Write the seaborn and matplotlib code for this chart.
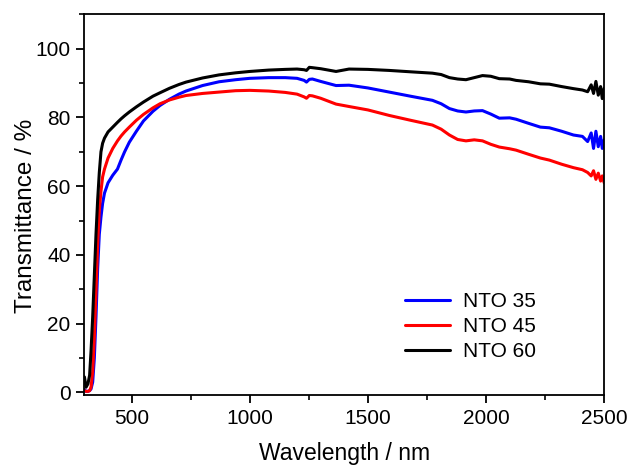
import numpy as np
import pandas as pd
import matplotlib
matplotlib.use("Agg")
import matplotlib.pyplot as plt
from matplotlib.ticker import MultipleLocator
import seaborn as sns

wavelength = [300, 307, 315, 322, 328, 335, 342, 349, 356, 363, 370, 377, 385, 400, 420,
              440, 455, 470, 490, 520, 550, 590, 620, 660, 700, 730, 800, 870, 940, 1000,
              1080, 1150, 1200, 1230, 1240, 1252, 1265, 1300, 1365, 1420, 1500, 1590, 1680,
              1773, 1810, 1845, 1880, 1915, 1950, 1985, 2020, 2056, 2100, 2127, 2180, 2230,
              2268, 2320, 2370, 2408, 2430, 2445, 2455, 2465, 2475, 2485, 2492, 2500]

nto35 = [0.8, 0.3, 0.3, 0.5, 1.0, 3.0, 10, 22, 36, 46, 51, 55, 58, 61, 63.2,
         65, 67.6, 70, 72.8, 76, 79.0, 81.8, 83.5, 85.3, 86.8, 87.7, 89.3, 90.4, 91.0, 91.4,
         91.6, 91.6, 91.4, 90.8, 90.3, 91.1, 91.2, 90.5, 89.3, 89.4, 88.6, 87.4, 86.2,
         85.0, 84.0, 82.6, 81.9, 81.6, 81.9, 82.0, 81.0, 79.8, 79.9, 79.5, 78.3, 77.2,
         77.0, 76.0, 74.9, 74.5, 73.0, 75.5, 71.0, 76.0, 71.5, 74.5, 71.0, 73.5]

nto45 = [0.5, 0.3, 0.3, 0.5, 1.5, 6, 16, 29, 43, 53, 58.5, 62.7, 65.0, 68.2, 71.0,
         73.2, 74.6, 75.8, 77.2, 79.2, 80.9, 82.8, 84.0, 85.1, 85.9, 86.4, 87.0, 87.4, 87.8, 87.9,
         87.7, 87.3, 86.8, 86.0, 85.6, 86.4, 86.3, 85.6, 83.9, 83.2, 82.2, 80.6, 79.2,
         77.8, 76.6, 74.9, 73.6, 73.2, 73.5, 73.2, 72.2, 71.4, 70.9, 70.5, 69.3, 68.2,
         67.6, 66.4, 65.4, 64.8, 64.0, 63.0, 64.5, 62.0, 63.8, 61.5, 63.0, 61.0]

nto60 = [4.5, 1.5, 2.5, 5, 12, 22, 34, 46, 56, 64, 70, 72.5, 74, 75.8, 77.2,
         78.6, 79.6, 80.5, 81.6, 83.1, 84.5, 86.2, 87.2, 88.5, 89.6, 90.3, 91.5, 92.4, 93.0, 93.4,
         93.8, 94.0, 94.1, 93.9, 93.7, 94.6, 94.5, 94.2, 93.4, 94.1, 94.0, 93.7, 93.3,
         92.9, 92.5, 91.6, 91.2, 91.0, 91.6, 92.2, 92.0, 91.3, 91.2, 90.8, 90.4, 89.8,
         89.7, 89.0, 88.4, 88.0, 87.5, 89.5, 87.0, 90.5, 86.5, 89.0, 85.5, 88.5]

series_names = ["NTO 35", "NTO 45", "NTO 60"]
series_colors = ["#0000ff", "#ff0000", "#000000"]

df = pd.concat([
    pd.DataFrame({"Wavelength": wavelength, "T": vals, "Sample": name})
    for name, vals in zip(series_names, [nto35, nto45, nto60])
], ignore_index=True)

sns.set_style("ticks")
plt.rcParams["font.family"] = ["Liberation Sans", "DejaVu Sans"]
plt.rcParams["text.color"] = "black"
plt.rcParams["axes.labelcolor"] = "black"
plt.rcParams["xtick.color"] = "black"
plt.rcParams["ytick.color"] = "black"

fig = plt.figure(figsize=(6.3, 4.65), dpi=100)
ax = fig.add_axes([0.134, 0.151, 0.825, 0.818])

sns.lineplot(data=df, x="Wavelength", y="T", hue="Sample", hue_order=series_names,
             palette=series_colors, estimator=None, linewidth=2.2, ax=ax)

ax.set_xlim(300, 2500)
ax.set_ylim(-0.7, 110)
ax.xaxis.set_major_locator(MultipleLocator(500))
ax.xaxis.set_minor_locator(MultipleLocator(250))
ax.yaxis.set_major_locator(MultipleLocator(20))
ax.yaxis.set_minor_locator(MultipleLocator(10))
ax.set_xticks([500, 1000, 1500, 2000, 2500])
ax.set_yticks([0, 20, 40, 60, 80, 100])

for sp in ax.spines.values():
    sp.set_visible(True)
    sp.set_linewidth(1.3)
    sp.set_color("black")

ax.tick_params(axis="both", which="major", direction="out", length=6, width=1.3,
               labelsize=15, colors="black", pad=4)
ax.tick_params(axis="both", which="minor", direction="out", length=3.5, width=1.2,
               colors="black")
ax.tick_params(top=False, right=False, which="both")

ax.set_xlabel("Wavelength / nm", fontsize=16.5, labelpad=10.5, color="black")
ax.set_ylabel("Transmittance / %", fontsize=17.5, color="black")
ax.yaxis.set_label_coords(-0.092, 0.47)

leg = ax.legend(loc="center left", bbox_to_anchor=(0.616, 0.179), frameon=False,
                fontsize=15, borderaxespad=0, borderpad=0, handlelength=2.2,
                handletextpad=0.6, labelspacing=0.28)
for txt in leg.get_texts():
    txt.set_color("black")
for line in leg.get_lines():
    line.set_linewidth(2.2)

fig.savefig("out.png", dpi=100)
